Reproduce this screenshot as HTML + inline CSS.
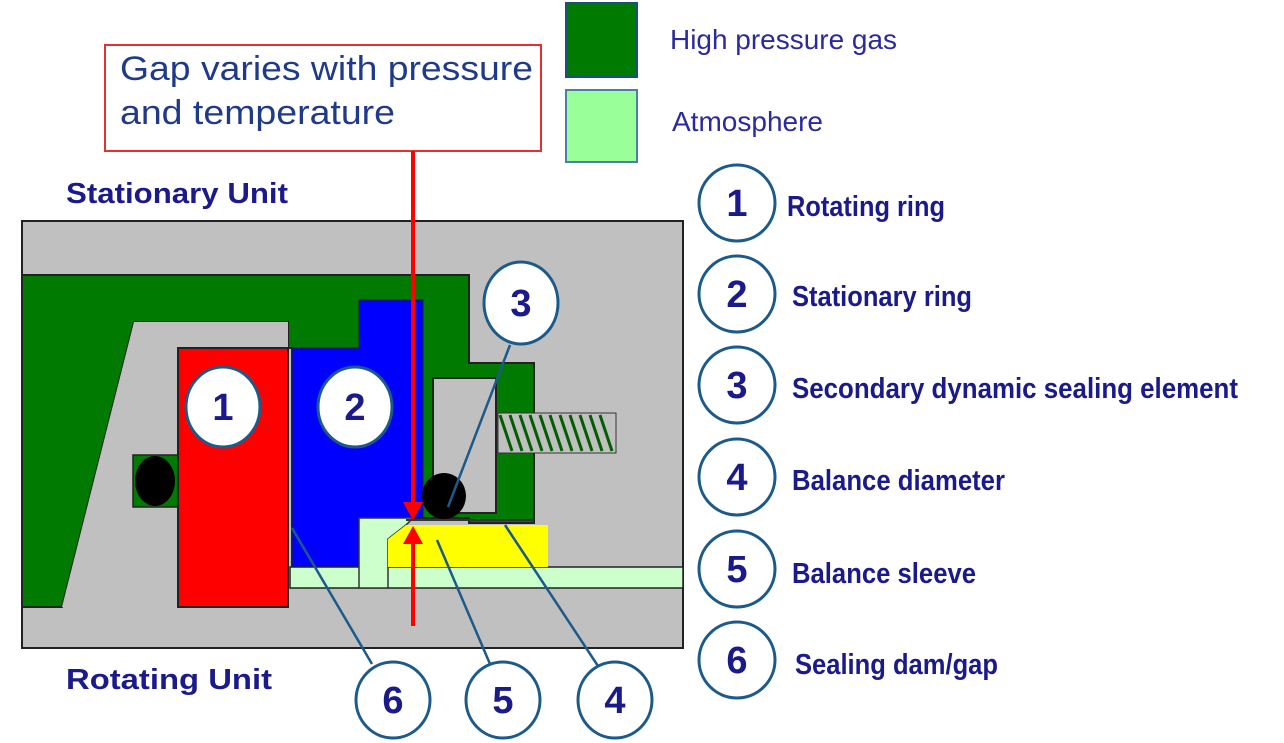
<!DOCTYPE html>
<html><head><style>body{margin:0;background:#fff}svg{display:block}</style></head><body>
<svg width="1284" height="743" viewBox="0 0 1284 743" xmlns="http://www.w3.org/2000/svg" font-family="Liberation Sans, sans-serif">
<rect x="0" y="0" width="1284" height="743" fill="#fff"/>
<rect x="566" y="3" width="71" height="74" fill="#007a00" stroke="#1b4f80" stroke-width="2"/>
<rect x="566" y="90" width="71" height="72" fill="#99ff99" stroke="#4a7fa8" stroke-width="2"/>
<text x="670" y="49" font-size="28" fill="#2a2aa0" textLength="227" lengthAdjust="spacingAndGlyphs">High pressure gas</text>
<text x="672" y="131" font-size="28" fill="#2a2aa0" textLength="151" lengthAdjust="spacingAndGlyphs">Atmosphere</text>
<rect x="105" y="45" width="436" height="106" fill="#fff" stroke="#e53030" stroke-width="2"/>
<text x="120" y="80" font-size="34" fill="#1f3a8a" textLength="413" lengthAdjust="spacingAndGlyphs">Gap varies with pressure</text>
<text x="120" y="124" font-size="34" fill="#1f3a8a" textLength="275" lengthAdjust="spacingAndGlyphs">and temperature</text>
<text x="66" y="203" font-size="29" font-weight="bold" fill="#1a1a8c" textLength="222" lengthAdjust="spacingAndGlyphs">Stationary Unit</text>
<text x="66" y="689" font-size="29" font-weight="bold" fill="#1a1a8c" textLength="206" lengthAdjust="spacingAndGlyphs">Rotating  Unit</text>
<rect x="22" y="221" width="661" height="427" fill="#c0c0c0" stroke="#222" stroke-width="2"/>
<polygon points="22,275 469,275 469,363 534,363 534,523 469,523 469,518 359,518 359,570 292,570 292,348 288,348 288,322 134,322 62,607 22,607" fill="#007a00" stroke="#222" stroke-width="2"/>
<rect x="433" y="378" width="63" height="135" fill="#c0c0c0" stroke="#222" stroke-width="2"/>
<polygon points="134,322 288,322 288,348 178,348 178,607 62,607" fill="#c0c0c0" stroke="none"/>
<rect x="178" y="348" width="110" height="259" fill="#ff0000" stroke="#222" stroke-width="2"/>
<polygon points="292,348 359,348 359,300 423,300 423,518 359,518 359,570 292,570" fill="#0000ff" stroke="#222" stroke-width="1"/>
<rect x="290" y="567" width="393" height="21" fill="#ccffcc" stroke="#222" stroke-width="1.5"/>
<polygon points="359,518 413,518 406,525 388,539 388,588 359,588" fill="#ccffcc" stroke="#333" stroke-width="1.5"/>
<polygon points="406,525 548,525 548,567 388,567 388,539" fill="#ffff00"/>
<line x1="406" y1="520" x2="534" y2="520" stroke="#333" stroke-width="2"/>
<rect x="133" y="455" width="45" height="52" fill="#007a00" stroke="#222" stroke-width="1.5"/>
<ellipse cx="155" cy="481" rx="20" ry="25" fill="#000"/>
<ellipse cx="444" cy="496" rx="22" ry="23" fill="#000"/>
<rect x="498" y="413" width="118" height="40" fill="#c0c0c0" stroke="#333" stroke-width="1"/>
<g stroke="#006000" stroke-width="3">
<line x1="500" y1="415" x2="512" y2="451"/><line x1="510" y1="415" x2="522" y2="451"/><line x1="520" y1="415" x2="532" y2="451"/><line x1="530" y1="415" x2="542" y2="451"/><line x1="540" y1="415" x2="552" y2="451"/><line x1="550" y1="415" x2="562" y2="451"/><line x1="560" y1="415" x2="572" y2="451"/><line x1="570" y1="415" x2="582" y2="451"/><line x1="580" y1="415" x2="592" y2="451"/><line x1="590" y1="415" x2="602" y2="451"/><line x1="600" y1="415" x2="612" y2="451"/>
</g>
<line x1="413" y1="151" x2="413" y2="505" stroke="#ff0000" stroke-width="4"/>
<polygon points="403,502 423,502 413,520" fill="#ff0000"/>
<line x1="413" y1="540" x2="413" y2="626" stroke="#ff0000" stroke-width="4"/>
<polygon points="403,544 423,544 413,526" fill="#ff0000"/>
<g stroke="#1b5a8a" stroke-width="2.5" fill="none">
<line x1="510" y1="345" x2="448" y2="507"/>
<line x1="292" y1="528" x2="372" y2="664"/>
<line x1="437" y1="540" x2="490" y2="664"/>
<line x1="505" y1="525" x2="598" y2="666"/>
</g>
<g fill="#fff" stroke="#1b5a8a" stroke-width="3">
<ellipse cx="223" cy="407" rx="37" ry="40"/>
<ellipse cx="355" cy="407" rx="37" ry="40"/>
<ellipse cx="521" cy="303" rx="37" ry="41"/>
<ellipse cx="393" cy="700" rx="37" ry="38"/>
<ellipse cx="503" cy="700" rx="37" ry="38"/>
<ellipse cx="615" cy="700" rx="37" ry="38"/>
<ellipse cx="737" cy="203" rx="38" ry="38"/>
<ellipse cx="737" cy="294" rx="38" ry="38"/>
<ellipse cx="737" cy="385" rx="38" ry="38"/>
<ellipse cx="737" cy="477" rx="38" ry="38"/>
<ellipse cx="737" cy="569" rx="38" ry="38"/>
<ellipse cx="737" cy="660" rx="38" ry="38"/>
</g>
<g font-size="38" font-weight="bold" fill="#1a1a8c" text-anchor="middle">
<text x="223" y="420">1</text><text x="355" y="420">2</text><text x="521" y="316">3</text>
<text x="393" y="713">6</text><text x="503" y="713">5</text><text x="615" y="713">4</text>
<text x="737" y="216">1</text><text x="737" y="307">2</text><text x="737" y="398">3</text>
<text x="737" y="490">4</text><text x="737" y="582">5</text><text x="737" y="673">6</text>
</g>
<g font-size="29" font-weight="bold" fill="#1a1a8c">
<text x="787" y="216" textLength="158" lengthAdjust="spacingAndGlyphs">Rotating ring</text>
<text x="792" y="306" textLength="180" lengthAdjust="spacingAndGlyphs">Stationary ring</text>
<text x="792" y="398" textLength="446" lengthAdjust="spacingAndGlyphs">Secondary dynamic sealing element</text>
<text x="792" y="490" textLength="213" lengthAdjust="spacingAndGlyphs">Balance diameter</text>
<text x="792" y="583" textLength="184" lengthAdjust="spacingAndGlyphs">Balance sleeve</text>
<text x="795" y="674" textLength="203" lengthAdjust="spacingAndGlyphs">Sealing dam/gap</text>
</g>
</svg>
</body></html>
